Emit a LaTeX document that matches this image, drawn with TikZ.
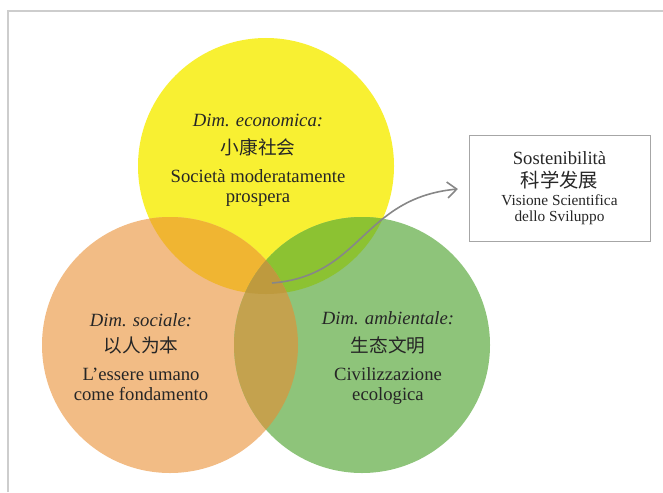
\documentclass[tikz,border=0pt]{standalone}
\usepackage{fontspec}
\setmainfont{Liberation Serif}
\newfontfamily\cjk{Noto Sans CJK SC}
\usetikzlibrary{arrows.meta}

\definecolor{ecoyellow}{RGB}{248,240,50}
\definecolor{socorange}{RGB}{242,188,133}
\definecolor{ambgreen}{RGB}{142,196,122}
\definecolor{yelorange}{RGB}{240,181,50}
\definecolor{yelgreen}{RGB}{140,194,50}
\definecolor{orgreen}{RGB}{196,162,78}
\definecolor{allthree}{RGB}{190,154,62}
\definecolor{framegray}{RGB}{205,205,205}
\definecolor{arrowgray}{RGB}{135,135,135}

\newcommand{\rad}{96pt}

\begin{document}
\begin{tikzpicture}[x=0.75pt,y=-0.75pt,>={Straight Barb[length=7pt,width=12pt]},
    dim text/.style={align=center,text=black!85,font=\fontsize{14}{15}\selectfont},
    box text/.style={inner sep=0pt,text=black!85,font=\fontsize{11.5}{12}\selectfont},
    sviluppo box/.style={draw=black!35,line width=0.7pt,fill=white,minimum width=135.75pt,minimum height=79.5pt,inner sep=0pt}]

    \useasboundingbox (0,0) rectangle (663,492);
    \draw[framegray,line width=1.4pt] (8,492) -- (8,11) -- (663,11);

    \coordinate (eco) at (266,166);
    \coordinate (soc) at (170,345);
    \coordinate (amb) at (362,345);

    % the three circles
    \fill[ecoyellow] (eco) circle[radius=\rad];
    \fill[socorange] (soc) circle[radius=\rad];
    \fill[ambgreen]  (amb) circle[radius=\rad];

    % overlaps
    \begin{scope}
        \clip (eco) circle[radius=\rad];
        \fill[yelorange] (soc) circle[radius=\rad];
        \fill[yelgreen]  (amb) circle[radius=\rad];
    \end{scope}
    \begin{scope}
        \clip (soc) circle[radius=\rad];
        \fill[orgreen] (amb) circle[radius=\rad];
        \clip (eco) circle[radius=\rad];
        \fill[allthree] (amb) circle[radius=\rad];
    \end{scope}

    \node[dim text] (ecotxt) at (258,160) {\textit{Dim. economica:}\\[6pt]{\cjk 小康社会}\\[6pt]Società moderatamente\\prospera};
    \node[dim text] (soctxt) at (141,357) {\textit{Dim. sociale:}\\[4pt]{\cjk 以人为本}\\[6pt]L'essere umano\\come fondamento};
    \node[dim text] (ambtxt) at (388,358) {\textit{Dim. ambientale:}\\[6pt]{\cjk 生态文明}\\[6pt]Civilizzazione\\ecologica};

    \node[sviluppo box] (sviluppo) at (559.5,188) {};
    \node[box text,font=\fontsize{14}{15}\selectfont] (soste) at ([yshift=22.5pt]sviluppo.center) {Sostenibilità};
    \node[box text,font=\fontsize{14.5}{15}\selectfont\cjk] (kexue) at ([yshift=6pt]sviluppo.center) {科学发展};
    \node[box text] (visione) at ([yshift=-9pt]sviluppo.center) {Visione Scientifica};
    \node[box text] (dello) at ([yshift=-22.5pt]sviluppo.center) {dello Sviluppo};

    \coordinate (start) at (272,283);
    \draw[->,arrowgray,line width=1.2pt,shorten >=8pt] (start) .. controls (362,276) and (362,198) .. (sviluppo.west);
\end{tikzpicture}
\end{document}
